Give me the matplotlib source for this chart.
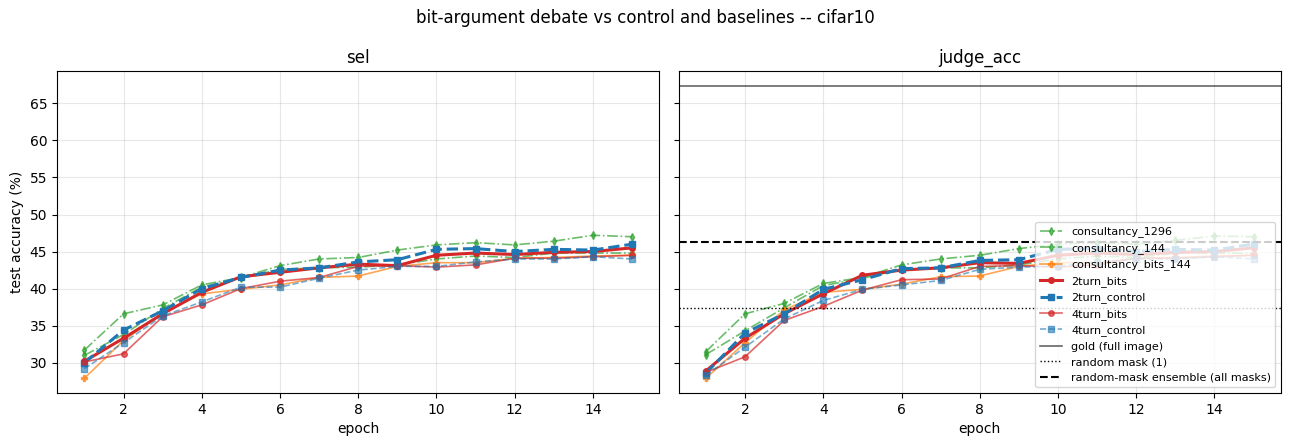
import matplotlib
matplotlib.use('Agg')
import matplotlib.pyplot as plt

# эпохи
epochs = list(range(1, 16))

# sel
sel_consultancy_1296 = [31.7, 36.6, 37.8, 40.5, 41.5, 43.1, 44.0, 44.2, 45.2, 45.9, 46.2, 45.9, 46.4, 47.2, 47.0]
sel_consultancy_144 = [31.0, 33.8, 37.3, 40.2, 41.4, 42.6, 42.8, 42.9, 43.2, 44.0, 44.4, 44.2, 44.8, 44.8, 44.8]
sel_consultancy_bits_144 = [27.9, 33.0, 36.7, 39.3, 39.9, 40.5, 41.5, 41.7, 43.0, 43.5, 43.5, 44.1, 44.2, 44.4, 44.5]
sel_2turn_bits = [30.2, 33.3, 36.6, 39.5, 41.6, 42.2, 42.8, 43.3, 43.1, 44.5, 44.8, 44.6, 44.9, 45.0, 45.5]
sel_2turn_control = [30.0, 34.4, 37.0, 40.0, 41.5, 42.5, 42.8, 43.6, 43.9, 45.3, 45.4, 45.0, 45.3, 45.2, 46.0]
sel_4turn_bits = [30.1, 31.2, 36.2, 37.8, 40.0, 41.0, 41.5, 43.0, 43.1, 42.9, 43.2, 44.1, 44.1, 44.3, 44.5]
sel_4turn_control = [29.2, 32.7, 36.3, 38.2, 40.2, 40.2, 41.4, 42.5, 43.0, 43.0, 43.6, 44.0, 44.0, 44.3, 44.0]

# judge_acc
judge_consultancy_1296 = [31.5, 36.6, 38.0, 40.7, 41.5, 43.2, 44.0, 44.5, 45.4, 46.0, 46.2, 46.0, 46.5, 47.1, 47.0]
judge_consultancy_144 = [31.1, 34.3, 37.4, 40.4, 41.4, 42.6, 42.8, 42.8, 43.2, 44.0, 44.4, 44.2, 44.8, 44.8, 44.8]
judge_consultancy_bits_144 = [27.9, 32.7, 37.1, 39.5, 39.9, 40.6, 41.6, 41.7, 43.0, 43.5, 43.5, 44.1, 44.2, 44.4, 44.5]
judge_2turn_bits = [28.9, 33.3, 36.6, 39.3, 41.8, 42.5, 42.8, 43.5, 43.4, 44.5, 44.8, 44.6, 44.9, 45.0, 45.5]
judge_2turn_control = [28.6, 34.0, 36.6, 39.9, 41.2, 42.7, 42.8, 43.8, 43.9, 45.3, 45.4, 45.0, 45.3, 45.2, 46.0]
judge_4turn_bits = [28.7, 30.8, 35.7, 37.6, 39.8, 41.2, 41.3, 43.0, 43.1, 42.9, 43.2, 44.1, 44.1, 44.3, 44.5]
judge_4turn_control = [28.3, 32.1, 35.9, 38.4, 39.9, 40.5, 41.1, 42.6, 42.9, 43.0, 43.6, 44.0, 44.0, 44.3, 44.0]

# опорные уровни
gold_acc = 67.4
random_mask_acc = 37.4
ensemble_acc = 46.3

names = ['consultancy_1296', 'consultancy_144', 'consultancy_bits_144',
         '2turn_bits', '2turn_control', '4turn_bits', '4turn_control']
sel_data = [sel_consultancy_1296, sel_consultancy_144, sel_consultancy_bits_144,
            sel_2turn_bits, sel_2turn_control, sel_4turn_bits, sel_4turn_control]
judge_data = [judge_consultancy_1296, judge_consultancy_144, judge_consultancy_bits_144,
              judge_2turn_bits, judge_2turn_control, judge_4turn_bits, judge_4turn_control]

styles = {
    'consultancy_1296': dict(color='#2ca02c', ls='-.', marker='d', lw=1.2, ms=4, alpha=0.7),
    'consultancy_144': dict(color='#2ca02c', ls='-.', marker='d', lw=1.2, ms=4, alpha=0.7),
    'consultancy_bits_144': dict(color='#ff7f0e', ls='-', marker='P', lw=1.2, ms=5, alpha=0.7),
    '2turn_bits': dict(color='#d62728', ls='-', marker='o', lw=2.2, ms=4, alpha=1.0),
    '2turn_control': dict(color='#1f77b4', ls='--', marker='s', lw=2.2, ms=5, alpha=1.0),
    '4turn_bits': dict(color='#d62728', ls='-', marker='o', lw=1.2, ms=4, alpha=0.7),
    '4turn_control': dict(color='#1f77b4', ls='--', marker='s', lw=1.2, ms=5, alpha=0.6),
}

fig, axes = plt.subplots(1, 2, figsize=(12.9, 4.46), sharey=True)

for ax, data, title in zip(axes, [sel_data, judge_data], ['sel', 'judge_acc']):
    for name, vals in zip(names, data):
        ax.plot(epochs, vals, label=name, **styles[name])
    ax.set_title(title)
    ax.set_xlabel('epoch')
    ax.grid(True, alpha=0.3)

ax = axes[1]
ax.axhline(gold_acc, color='k', ls='-', lw=1.2, alpha=0.6, label='gold (full image)')
ax.axhline(random_mask_acc, color='k', ls=':', lw=1.0, label='random mask (1)')
ax.axhline(ensemble_acc, color='k', ls='--', lw=1.5, label='random-mask ensemble (all masks)')
ax.legend(loc='lower right', fontsize=8)

axes[0].set_ylabel('test accuracy (%)')
fig.suptitle('bit-argument debate vs control and baselines -- cifar10')
fig.subplots_adjust(left=0.0442, right=0.993, top=0.841, bottom=0.119, wspace=0.0316)
plt.savefig('out.png', dpi=100)
